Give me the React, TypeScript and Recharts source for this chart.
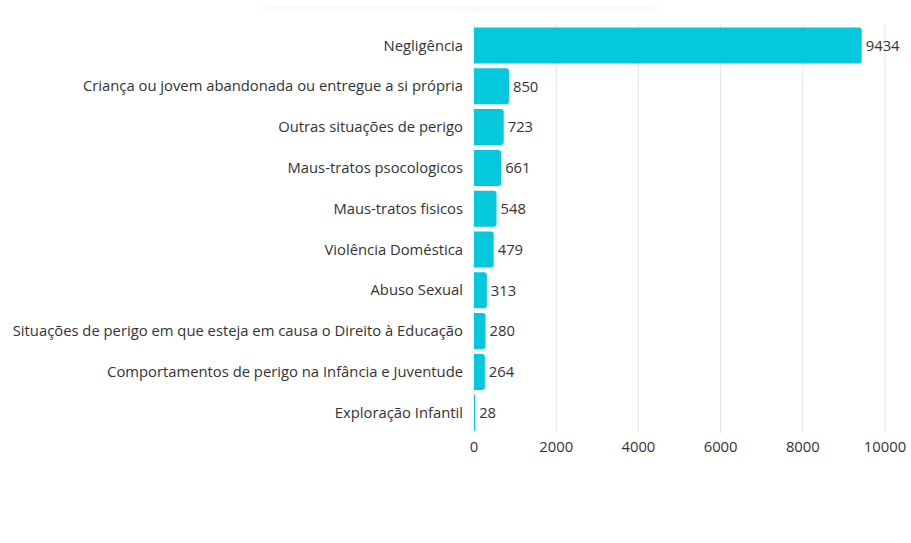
import { Bar, BarChart, CartesianGrid, LabelList, XAxis, YAxis } from "recharts";

const categories = [
  "Negligência",
  "Criança ou jovem abandonada ou entregue a si própria",
  "Outras situações de perigo",
  "Maus-tratos psocologicos",
  "Maus-tratos fisicos",
  "Violência Doméstica",
  "Abuso Sexual",
  "Situações de perigo em que esteja em causa o Direito à Educação",
  "Comportamentos de perigo na Infância e Juventude",
  "Exploração Infantil",
];

const counts = [9434, 850, 723, 661, 548, 479, 313, 280, 264, 28];

const xTicks = [0, 2000, 4000, 6000, 8000, 10000];

const data = categories.map((name, i) => ({ name, value: counts[i] }));

const font = "'Open Sans', sans-serif";
const textColor = "#333333";

export default function App() {
  return (
    <div style={{ position: "absolute", left: 0, top: 0, width: 911, height: 543, fontFamily: font }}>
      {/* faint shadow left over from a header above the chart */}
      <div
        style={{
          position: "absolute",
          left: 260,
          top: -14,
          width: 400,
          height: 20,
          borderRadius: 10,
          boxShadow: "0 4px 8px rgba(0,0,0,0.035)",
        }}
      />
      <BarChart
        width={911}
        height={543}
        data={data}
        layout="vertical"
        margin={{ top: 25, right: 26, bottom: 80, left: 0 }}
        barCategoryGap={2.5}
      >
        <CartesianGrid horizontal={false} stroke="#e3e3e3" />
        <XAxis
          type="number"
          domain={[0, 10000]}
          ticks={xTicks}
          axisLine={false}
          tickLine={false}
          height={30}
          tick={{ fill: textColor, fontSize: 14.8, fontFamily: font }}
        />
        <YAxis
          type="category"
          dataKey="name"
          width={474}
          axisLine={false}
          tickLine={false}
          tickMargin={5}
          interval={0}
          tick={{ fill: textColor, fontSize: 14.8, fontFamily: font }}
        />
        <Bar dataKey="value" fill="#05c8dc" radius={[0, 3, 3, 0]} isAnimationActive={false}>
          <LabelList
            dataKey="value"
            position="right"
            offset={4}
            fill={textColor}
            fontSize={14.8}
            fontFamily={font}
          />
        </Bar>
      </BarChart>
    </div>
  );
}
